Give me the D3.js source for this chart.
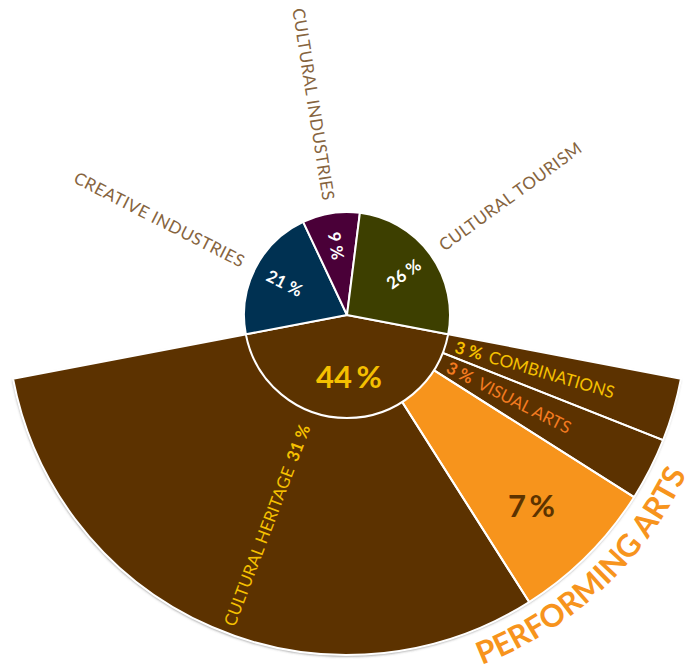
<!DOCTYPE html>
<html>
<head>
<meta charset="utf-8">
<script src="https://cdn.jsdelivr.net/npm/d3@7/dist/d3.min.js"></script>
<style>
  html, body { margin: 0; padding: 0; background: #ffffff; }
  svg { display: block; }
  text { font-family: Lato, "Open Sans", sans-serif; }
</style>
</head>
<body>
<svg id="chart" width="700" height="669"></svg>
<script>
// Main sectors of the culture economy (percent)
const mainCategories = ["CULTURAL HERITAGE", "CREATIVE INDUSTRIES", "CULTURAL INDUSTRIES", "CULTURAL TOURISM"];
const mainValues = [44, 21, 9, 26];
const mainColors = ["#5c3300", "#003152", "#4a0038", "#3d3f00"];

// Breakdown of the cultural heritage sector (percent of total)
const heritageCategories = ["COMBINATIONS", "VISUAL ARTS", "PERFORMING ARTS", "CULTURAL HERITAGE"];
const heritageValues = [3, 3, 7, 31];
const heritageColors = ["#5c3300", "#5c3300", "#f7941d", "#5c3300"];
const heritageLabelColors = ["#f5c000", "#f37b20", "#f7941d", "#f5c000"];

const svg = d3.select("#chart");
const cx = 347, cy = 315;
const rInner = 103, rOuter = 340;

const defs = svg.append("defs");
const shadow = defs.append("filter").attr("id", "ringShadow")
  .attr("x", "-10%").attr("y", "-10%").attr("width", "120%").attr("height", "120%");
shadow.append("feDropShadow")
  .attr("dx", -0.5).attr("dy", 1.5).attr("stdDeviation", 1)
  .attr("flood-color", "#555").attr("flood-opacity", 0.6);

const g = svg.append("g").attr("transform", `translate(${cx},${cy})`);

// Main pie: the heritage slice is centred on the bottom of the circle
const total = d3.sum(mainValues);
const start = Math.PI * (1 - mainValues[0] / total);
const mainPie = d3.pie().sort(null).startAngle(start).endAngle(start + 2 * Math.PI);
const mainArcs = mainPie(mainValues);

// Exploded ring for the heritage slice
const subPie = d3.pie().sort(null)
  .startAngle(mainArcs[0].startAngle).endAngle(mainArcs[0].endAngle);
const subArcs = subPie(heritageValues);

const outerArc = d3.arc().innerRadius(0).outerRadius(rOuter);
const innerArc = d3.arc().innerRadius(0).outerRadius(rInner);

const ring = g.append("g").attr("filter", "url(#ringShadow)");
ring.selectAll("path").data(subArcs).join("path")
  .attr("d", outerArc)
  .attr("fill", (d, i) => heritageColors[i]);
g.append("g").selectAll("path").data(subArcs).join("path")
  .attr("d", outerArc)
  .attr("fill", "none")
  .attr("stroke", "#fff").attr("stroke-width", 2).attr("stroke-linejoin", "round");

g.append("g").selectAll("path").data(mainArcs).join("path")
  .attr("d", innerArc)
  .attr("fill", (d, i) => mainColors[i])
  .attr("stroke", "#fff").attr("stroke-width", 2).attr("stroke-linejoin", "round");

const mid = d => (d.startAngle + d.endAngle) / 2;
const polar = (a, r) => [r * Math.sin(a), -r * Math.cos(a)];
// Rotation for text laid along a radius; flipped on the left half so it stays readable
function radialRotation(a) {
  let deg = a * 180 / Math.PI - 90;
  const flip = (a % (2 * Math.PI)) > Math.PI;
  if (flip) deg += 180;
  return { deg, flip };
}
function radialText(parent, a, r, size) {
  const [x, y] = polar(a, r);
  const { deg, flip } = radialRotation(a);
  return parent.append("text")
    .attr("transform", `translate(${x},${y}) rotate(${deg})`)
    .attr("text-anchor", flip ? "end" : "start")
    .attr("dy", "0.36em")
    .attr("font-size", size);
}

// Outside labels of the three smaller main sectors
mainArcs.slice(1).forEach((d, k) => {
  radialText(g, mid(d), 116, 17)
    .attr("fill", "#86643e")
    .attr("font-weight", 400)
    .attr("letter-spacing", 0.5)
    .text(mainCategories[k + 1]);
});

// Percentages inside the main pie
mainArcs.slice(1).forEach(d => {
  const [x, y] = polar(mid(d), 70);
  const { deg } = radialRotation(mid(d));
  g.append("text")
    .attr("transform", `translate(${x},${y}) rotate(${deg})`)
    .attr("text-anchor", "middle").attr("dy", "0.36em")
    .attr("font-size", 17).attr("font-weight", 700)
    .attr("fill", "#fff")
    .text(d.data + " %");
});

g.append("text")
  .attr("x", 2).attr("y", 62)
  .attr("text-anchor", "middle").attr("dy", "0.36em")
  .attr("font-size", 31).attr("font-weight", 700)
  .attr("word-spacing", -3)
  .attr("fill", "#f5c000")
  .text(mainValues[0] + " %");

// Labels of the ring slices
[0, 1].forEach(i => {
  const d = subArcs[i];
  const t = radialText(g, mid(d), 113, 17).attr("fill", heritageLabelColors[i]);
  t.append("tspan").attr("font-weight", 700).text(d.data + " % ");
  t.append("tspan").attr("font-weight", 400).attr("dx", 3).text(heritageCategories[i]);
});

{
  const d = subArcs[3];
  const t = radialText(g, mid(d) - 0.045, 118, 17).attr("fill", heritageLabelColors[3]);
  t.append("tspan").attr("font-weight", 400).text(heritageCategories[3] + " ");
  t.append("tspan").attr("font-weight", 700).attr("dx", 3).text(d.data + " %");
}

{
  const d = subArcs[2];
  const [x, y] = polar(mid(d), 265);
  g.append("text")
    .attr("x", x - 3).attr("y", y + 3)
    .attr("text-anchor", "middle").attr("dy", "0.36em")
    .attr("font-size", 31).attr("font-weight", 700)
    .attr("word-spacing", -4)
    .attr("fill", "#5c3300")
    .text(d.data + " %");

  // Sector title curved along the outside of the ring
  const rText = 375;
  const aMid = mid(d) + 0.035;
  const a0 = aMid + 0.45, a1 = aMid - 0.45;
  const [x0, y0] = polar(a0, rText), [x1, y1] = polar(a1, rText);
  defs.append("path").attr("id", "perfPath")
    .attr("d", `M${x0 + cx},${y0 + cy} A${rText},${rText} 0 0 0 ${x1 + cx},${y1 + cy}`);
  svg.append("text")
    .attr("font-size", 31).attr("font-weight", 700)
    .attr("fill", heritageLabelColors[2])
    .append("textPath").attr("href", "#perfPath")
    .attr("startOffset", "50%").attr("text-anchor", "middle")
    .text(heritageCategories[2]);
}
</script>
</body>
</html>
